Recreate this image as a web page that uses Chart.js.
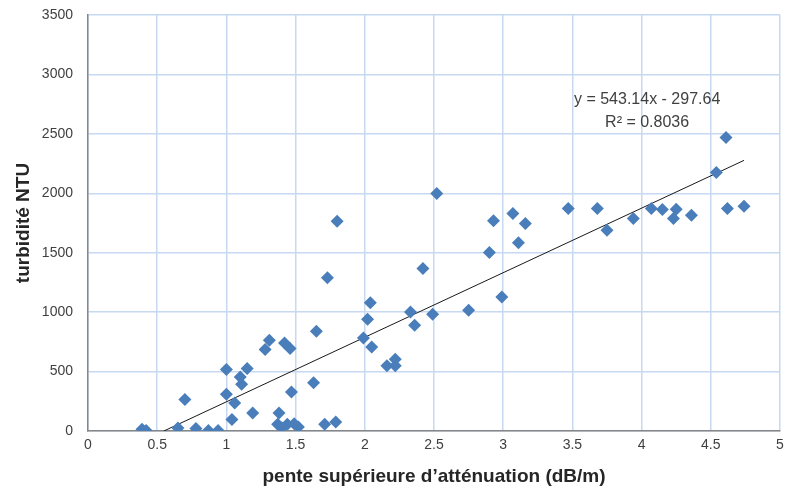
<!DOCTYPE html>
<html>
<head>
<meta charset="utf-8">
<script src="https://cdn.jsdelivr.net/npm/chart.js@4.4.0/dist/chart.umd.min.js"></script>
<style>
  html, body { margin: 0; padding: 0; background: #fff; }
  #wrap { width: 786px; height: 494px; }
</style>
</head>
<body>
<div id="wrap"><canvas id="scatterChart" width="786" height="494"></canvas></div>
<script>
// pente supérieure d'atténuation (dB/m)
var penteX = [0.39, 0.42, 0.65, 0.70, 0.78, 0.87, 0.94, 1.00, 1.00, 1.04,
              1.06, 1.10, 1.11, 1.15, 1.19, 1.28, 1.31, 1.37, 1.38, 1.40,
              1.42, 1.44, 1.46, 1.47, 1.49, 1.52, 1.63, 1.65, 1.71, 1.73,
              1.79, 1.80, 1.99, 2.02, 2.04, 2.05, 2.16, 2.22, 2.22, 2.33,
              2.36, 2.42, 2.49, 2.52, 2.75, 2.90, 2.93, 2.99, 3.07, 3.11,
              3.16, 3.47, 3.68, 3.75, 3.94, 4.07, 4.15, 4.23, 4.25, 4.36,
              4.54, 4.61, 4.62, 4.74];
// turbidité NTU
var turbiditeY = [15, 5, 25, 265, 20, 5, 5, 517, 309, 96,
                  236, 455, 393, 525, 152, 685, 763, 56, 152, 28,
                  741, 56, 694, 328, 62, 34, 407, 839, 56, 1290,
                  76, 1765, 783, 940, 1078, 707, 550, 603, 550, 1002,
                  890, 1367, 982, 1998, 1016, 1502, 1768, 1128, 1830, 1583,
                  1746, 1872, 1872, 1690, 1788, 1872, 1864, 1788, 1866, 1816,
                  2175, 2470, 1872, 1891];
// courbe de tendance (extrémités)
var trendX = [0.548, 4.74];
var trendY = [0, 2277];
var equationLines = ['y = 543.14x - 297.64', 'R\u00b2 = 0.8036'];

var xTicks = [0, 0.5, 1, 1.5, 2, 2.5, 3, 3.5, 4, 4.5, 5];
var yTicks = [0, 500, 1000, 1500, 2000, 2500, 3000, 3500];

var points = penteX.map(function (x, i) { return { x: x, y: turbiditeY[i] }; });
var trend = trendX.map(function (x, i) { return { x: x, y: trendY[i] }; });

var equationPlugin = {
    id: 'equation',
    afterDatasetsDraw: function (chart) {
        var ctx = chart.ctx;
        var xs = chart.scales.x, ys = chart.scales.y;
        ctx.save();
        ctx.fillStyle = '#404040';
        ctx.font = '16px "Liberation Sans", Arial, sans-serif';
        ctx.textAlign = 'center';
        ctx.textBaseline = 'middle';
        ctx.fillText(equationLines[0], xs.getPixelForValue(4.04), ys.getPixelForValue(2790));
        ctx.fillText(equationLines[1], xs.getPixelForValue(4.04), ys.getPixelForValue(2595));
        ctx.restore();
    }
};

var tickFont = { family: '"Liberation Sans", Arial, sans-serif', size: 14 };
var titleFont = { family: '"Liberation Sans", Arial, sans-serif', size: 19, weight: 'bold' };

new Chart(document.getElementById('scatterChart').getContext('2d'), {
    type: 'scatter',
    data: {
        datasets: [
            {
                label: 'turbidité',
                data: points,
                pointStyle: 'rectRot',
                pointRadius: 6.5,
                pointHoverRadius: 6.5,
                backgroundColor: '#4a7ebb',
                borderColor: '#4a7ebb',
                borderWidth: 0
            },
            {
                type: 'line',
                label: 'tendance',
                data: trend,
                borderColor: '#1a1a1a',
                borderWidth: 1,
                pointRadius: 0,
                fill: false
            }
        ]
    },
    options: {
        responsive: false,
        animation: false,
        layout: { autoPadding: false, padding: { left: 8, right: 6, top: 15, bottom: 4 } },
        plugins: {
            legend: { display: false },
            tooltip: { enabled: false }
        },
        scales: {
            x: {
                type: 'linear',
                min: 0,
                max: 5,
                afterBuildTicks: function (axis) {
                    axis.ticks = xTicks.map(function (v) { return { value: v }; });
                },
                afterFit: function (axis) { axis.height = 59; },
                grid: { color: '#c6d9f1', lineWidth: 1.5, drawTicks: true, tickLength: 6, tickColor: 'rgba(0,0,0,0)' },
                border: { color: '#868686', width: 1.5 },
                ticks: {
                    color: '#404040', font: tickFont, padding: 0, maxRotation: 0,
                    callback: function (v) { return String(v); }
                },
                title: {
                    display: true,
                    text: 'pente supérieure d\u2019atténuation (dB/m)',
                    color: '#262626',
                    font: titleFont,
                    padding: { top: 8, bottom: 2 }
                }
            },
            y: {
                min: 0,
                max: 3500,
                afterBuildTicks: function (axis) {
                    axis.ticks = yTicks.map(function (v) { return { value: v }; });
                },
                ticks: {
                    color: '#404040', font: tickFont, padding: 0,
                    callback: function (v) { return String(v); }
                },
                afterFit: function (axis) { axis.width = 80; },
                grid: { color: '#c6d9f1', lineWidth: 1.5, drawTicks: true, tickLength: 15, tickColor: 'rgba(0,0,0,0)' },
                border: { color: '#868686', width: 1.5 },
                title: {
                    display: true,
                    text: 'turbidité NTU',
                    color: '#262626',
                    font: titleFont,
                    padding: { top: 4, bottom: 4 }
                }
            }
        }
    },
    plugins: [equationPlugin]
});
</script>
</body>
</html>
